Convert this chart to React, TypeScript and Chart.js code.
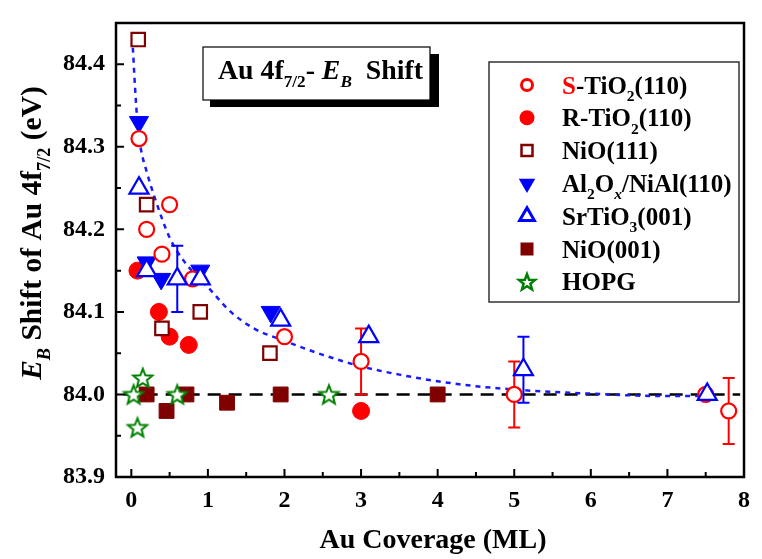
import React, { useEffect, useRef } from "react";
import { Chart, registerables } from "chart.js";

Chart.register(...registerables);

// ---------- DATA ----------
const xTickValues = [0, 1, 2, 3, 4, 5, 6, 7, 8];
const xMinorTickValues = [0.5, 1.5, 2.5, 3.5, 4.5, 5.5, 6.5, 7.5];
const yTickValues = [83.9, 84.0, 84.1, 84.2, 84.3, 84.4];
const yMinorTickValues = [83.95, 84.05, 84.15, 84.25, 84.35];

// S-TiO2(110) open red circles
const sTiO2X = [0.1, 0.2, 0.4, 0.5, 0.8, 2.0, 3.0, 5.0, 7.5, 7.8];
const sTiO2Y = [84.31, 84.2, 84.17, 84.23, 84.14, 84.07, 84.04, 84.0, 84.0, 83.98];
const sTiO2Err = [0, 0, 0, 0, 0, 0, 0.04, 0.04, 0, 0.04];

// R-TiO2(110) filled red circles
const rTiO2X = [0.08, 0.36, 0.5, 0.75, 3.0];
const rTiO2Y = [84.15, 84.1, 84.07, 84.06, 83.98];

// NiO(111) open dark-red squares
const nio111X = [0.09, 0.2, 0.4, 0.9, 1.81];
const nio111Y = [84.43, 84.23, 84.08, 84.1, 84.05];

// Al2Ox/NiAl(110) filled blue down triangles
const alNiAlX = [0.1, 0.2, 0.39, 0.9, 1.82];
const alNiAlY = [84.33, 84.16, 84.14, 84.15, 84.1];

// SrTiO3(001) open blue up triangles
const srTiO3X = [0.1, 0.2, 0.6, 0.9, 1.95, 3.1, 5.12, 7.52];
const srTiO3Y = [84.25, 84.15, 84.14, 84.14, 84.09, 84.07, 84.03, 84.0];
const srTiO3Err = [0, 0, 0.04, 0, 0, 0, 0.04, 0];

// NiO(001) filled dark-red squares
const nio001X = [0.2, 0.46, 0.72, 1.25, 1.95, 4.0];
const nio001Y = [84.0, 83.98, 84.0, 83.99, 84.0, 84.0];

// HOPG open green stars
const hopgX = [0.03, 0.08, 0.15, 0.6, 2.58];
const hopgY = [84.0, 83.96, 84.02, 84.0, 84.0];

// Blue dotted fitted curve
const fitX = [0.02, 0.05, 0.08, 0.12, 0.2, 0.3, 0.5, 0.7, 1.0, 1.3, 1.6, 2.0, 2.5, 3.0, 3.5, 4.0, 4.5, 5.0, 5.5, 6.0, 6.5, 7.0, 7.5];
const fitY = [84.42, 84.37, 84.33, 84.3, 84.27, 84.24, 84.19, 84.16, 84.13, 84.1, 84.08, 84.065, 84.048, 84.034, 84.024, 84.016, 84.01, 84.006, 84.003, 84.001, 83.999, 83.998, 83.998];

// Black dashed reference line
const refX = [-0.1, 7.95];
const refY = [84.0, 84.0];

// ---------- STYLE ----------
const FONT = '"Liberation Serif", "Times New Roman", serif';
const RED = "#ff0000";
const DARKRED = "#800000";
const BLUE = "#0000ff";
const GREEN = "#008000";

type Seg = { t: string; sub?: boolean; it?: boolean; color?: string };

function pts(xs: number[], ys: number[]) {
  return xs.map((x, i) => ({ x, y: ys[i] }));
}

function starPath(ctx: CanvasRenderingContext2D, cx: number, cy: number, ro: number, ri: number) {
  ctx.beginPath();
  for (let i = 0; i < 10; i++) {
    const r = i % 2 === 0 ? ro : ri;
    const a = -Math.PI / 2 + (i * Math.PI) / 5;
    const px = cx + r * Math.cos(a);
    const py = cy + r * Math.sin(a);
    if (i === 0) ctx.moveTo(px, py);
    else ctx.lineTo(px, py);
  }
  ctx.closePath();
}

function makeStar(ro: number, ri: number, lw: number, color: string) {
  const size = Math.ceil(ro * 2 + lw * 2 + 2);
  const c = document.createElement("canvas");
  c.width = size;
  c.height = size;
  const ctx = c.getContext("2d")!;
  starPath(ctx, size / 2, size / 2 + 0.8, ro, ri);
  ctx.fillStyle = "#fff";
  ctx.fill();
  ctx.lineWidth = lw;
  ctx.strokeStyle = color;
  ctx.lineJoin = "miter";
  ctx.stroke();
  return c;
}

function drawRich(ctx: CanvasRenderingContext2D, segs: Seg[], x: number, y: number, size: number, align: "left" | "center") {
  const subSize = size * 0.62;
  const fontFor = (s: Seg) => `${s.it ? "italic " : ""}bold ${s.sub ? subSize : size}px ${FONT}`;
  let total = 0;
  for (const s of segs) {
    ctx.font = fontFor(s);
    total += ctx.measureText(s.t).width;
  }
  let cx = align === "center" ? x - total / 2 : x;
  ctx.textAlign = "left";
  ctx.textBaseline = "alphabetic";
  for (const s of segs) {
    ctx.font = fontFor(s);
    ctx.fillStyle = s.color || "#000";
    ctx.fillText(s.t, cx, y + (s.sub ? size * 0.3 : 0));
    cx += ctx.measureText(s.t).width;
  }
}

function drawMarker(ctx: CanvasRenderingContext2D, kind: string, x: number, y: number, r: number, color: string, lw: number) {
  ctx.save();
  ctx.lineWidth = lw;
  ctx.strokeStyle = color;
  ctx.fillStyle = color;
  if (kind === "circleOpen" || kind === "circleFill") {
    ctx.beginPath();
    ctx.arc(x, y, r, 0, Math.PI * 2);
    if (kind === "circleFill") ctx.fill();
    else {
      ctx.fillStyle = "#fff";
      ctx.fill();
      ctx.stroke();
    }
  } else if (kind === "squareOpen" || kind === "squareFill") {
    ctx.beginPath();
    ctx.rect(x - r, y - r, 2 * r, 2 * r);
    if (kind === "squareFill") ctx.fill();
    else {
      ctx.fillStyle = "#fff";
      ctx.fill();
      ctx.stroke();
    }
  } else if (kind === "triDown" || kind === "triUpOpen") {
    const down = kind === "triDown";
    const s = down ? -1 : 1;
    ctx.beginPath();
    ctx.moveTo(x, y - s * r);
    ctx.lineTo(x + r * 0.866, y + s * r * 0.5);
    ctx.lineTo(x - r * 0.866, y + s * r * 0.5);
    ctx.closePath();
    if (down) ctx.fill();
    else {
      ctx.fillStyle = "#fff";
      ctx.fill();
      ctx.stroke();
    }
  } else if (kind === "star") {
    starPath(ctx, x, y + 0.8, r, r * 0.42);
    ctx.fillStyle = "#fff";
    ctx.fill();
    ctx.stroke();
  }
  ctx.restore();
}

const legendItems: { kind: string; color: string; r: number; lw: number; segs: Seg[] }[] = [
  { kind: "circleOpen", color: RED, r: 5.5, lw: 3, segs: [{ t: "S", color: RED }, { t: "-TiO" }, { t: "2", sub: true }, { t: "(110)" }] },
  { kind: "circleFill", color: RED, r: 7.5, lw: 1, segs: [{ t: "R-TiO" }, { t: "2", sub: true }, { t: "(110)" }] },
  { kind: "squareOpen", color: DARKRED, r: 5.5, lw: 2.5, segs: [{ t: "NiO(111)" }] },
  { kind: "triDown", color: BLUE, r: 9.5, lw: 1, segs: [{ t: "Al" }, { t: "2", sub: true }, { t: "O" }, { t: "x", sub: true, it: true }, { t: "/NiAl(110)" }] },
  { kind: "triUpOpen", color: BLUE, r: 8.5, lw: 3, segs: [{ t: "SrTiO" }, { t: "3", sub: true }, { t: "(001)" }] },
  { kind: "squareFill", color: DARKRED, r: 6.5, lw: 1, segs: [{ t: "NiO(001)" }] },
  { kind: "star", color: GREEN, r: 8.5, lw: 2.5, segs: [{ t: "HOPG" }] },
];

const errorMap: Record<string, number[]> = {
  sTiO2: sTiO2Err,
  srTiO3: srTiO3Err,
};

const decorPlugin = {
  id: "decor",
  beforeDatasetDraw(chart: any, args: any) {
    const ds = chart.data.datasets[args.index];
    const errs = errorMap[ds.key];
    if (!errs) return;
    const ctx: CanvasRenderingContext2D = chart.ctx;
    const xs = chart.scales.x;
    const ys = chart.scales.y;
    ctx.save();
    ctx.strokeStyle = ds.borderColor;
    ctx.lineWidth = 2;
    ds.data.forEach((p: any, i: number) => {
      const e = errs[i];
      if (!e) return;
      const px = xs.getPixelForValue(p.x);
      const top = ys.getPixelForValue(p.y + e);
      const bot = ys.getPixelForValue(p.y - e);
      ctx.beginPath();
      ctx.moveTo(px, top);
      ctx.lineTo(px, bot);
      ctx.moveTo(px - 6, top);
      ctx.lineTo(px + 6, top);
      ctx.moveTo(px - 6, bot);
      ctx.lineTo(px + 6, bot);
      ctx.stroke();
    });
    ctx.restore();
  },
  afterDraw(chart: any) {
    const ctx: CanvasRenderingContext2D = chart.ctx;
    const { left, right, top, bottom } = chart.chartArea;
    const xs = chart.scales.x;
    const ys = chart.scales.y;
    ctx.save();
    // frame
    ctx.strokeStyle = "#000";
    ctx.lineWidth = 2.5;
    ctx.strokeRect(left, top, right - left, bottom - top);
    // ticks (inward, bottom & left)
    ctx.lineWidth = 2;
    ctx.beginPath();
    for (const v of xTickValues) {
      const px = xs.getPixelForValue(v);
      ctx.moveTo(px, bottom);
      ctx.lineTo(px, bottom - 8);
    }
    for (const v of xMinorTickValues) {
      const px = xs.getPixelForValue(v);
      ctx.moveTo(px, bottom);
      ctx.lineTo(px, bottom - 5);
    }
    for (const v of yTickValues) {
      const py = ys.getPixelForValue(v);
      ctx.moveTo(left, py);
      ctx.lineTo(left + 8, py);
    }
    for (const v of yMinorTickValues) {
      const py = ys.getPixelForValue(v);
      ctx.moveTo(left, py);
      ctx.lineTo(left + 5, py);
    }
    ctx.stroke();

    // axis titles
    drawRich(ctx, [{ t: "Au Coverage (ML)" }], 433, 548, 28, "center");
    ctx.save();
    ctx.translate(41, 233);
    ctx.rotate(-Math.PI / 2);
    drawRich(
      ctx,
      [{ t: "E", it: true }, { t: "B", sub: true, it: true }, { t: " Shift of Au 4f" }, { t: "7/2", sub: true }, { t: " (eV)" }],
      0,
      0,
      29.5,
      "center"
    );
    ctx.restore();

    // title box with shadow
    ctx.fillStyle = "#000";
    ctx.fillRect(210, 54, 229, 53);
    ctx.fillStyle = "#fff";
    ctx.fillRect(203, 47, 227, 53);
    ctx.lineWidth = 1.2;
    ctx.strokeStyle = "#000";
    ctx.strokeRect(203, 47, 227, 53);
    drawRich(
      ctx,
      [{ t: "Au 4f" }, { t: "7/2", sub: true }, { t: "- " }, { t: "E", it: true }, { t: "B", sub: true, it: true }, { t: "  Shift" }],
      218,
      79,
      27.8,
      "left"
    );

    // legend
    ctx.fillStyle = "#fff";
    ctx.fillRect(489, 62, 250, 240);
    ctx.lineWidth = 1.5;
    ctx.strokeStyle = "#333";
    ctx.strokeRect(489, 62, 250, 240);
    legendItems.forEach((it, i) => {
      const cy = 85 + i * 32.8;
      drawMarker(ctx, it.kind, 527, cy, it.r, it.color, it.lw);
      drawRich(ctx, it.segs, 562, cy + 8.5, 25, "left");
    });
    ctx.restore();
  },
};

export default function App() {
  const ref = useRef<HTMLCanvasElement | null>(null);

  useEffect(() => {
    if (!ref.current) return;
    const star = makeStar(10, 4.3, 2, GREEN);
    const tickFont = { family: FONT, size: 24, weight: "bold" as const, lineHeight: 1 };

    const chart = new Chart(ref.current, {
      type: "scatter",
      data: {
        datasets: [
          {
            key: "ref",
            label: "ref",
            data: pts(refX, refY),
            showLine: true,
            borderColor: "#000",
            borderWidth: 2.5,
            borderDash: [13, 8],
            pointRadius: 0,
            order: 21,
          },
          {
            key: "fit",
            label: "fit",
            data: pts(fitX, fitY),
            showLine: true,
            borderColor: "#1a1aff",
            borderWidth: 2.5,
            borderDash: [5, 5],
            pointRadius: 0,
            cubicInterpolationMode: "monotone",
            order: 20,
          },
          {
            key: "nio001",
            label: "NiO(001)",
            data: pts(nio001X, nio001Y),
            pointStyle: "rect",
            pointRadius: 10.5,
            pointBorderWidth: 1,
            borderColor: DARKRED,
            backgroundColor: DARKRED,
            order: 7,
          },
          {
            key: "rTiO2",
            label: "R-TiO2(110)",
            data: pts(rTiO2X, rTiO2Y),
            pointStyle: "circle",
            pointRadius: 8.5,
            pointBorderWidth: 1,
            borderColor: RED,
            backgroundColor: RED,
            order: 6,
          },
          {
            key: "nio111",
            label: "NiO(111)",
            data: pts(nio111X, nio111Y),
            pointStyle: "rect",
            pointRadius: 9.5,
            pointBorderWidth: 2.2,
            borderColor: DARKRED,
            backgroundColor: "#fff",
            order: 5,
          },
          {
            key: "alNiAl",
            label: "Al2Ox/NiAl(110)",
            data: pts(alNiAlX, alNiAlY),
            pointStyle: "triangle",
            rotation: 180,
            pointRadius: 11,
            pointBorderWidth: 1,
            borderColor: BLUE,
            backgroundColor: BLUE,
            order: 4,
          },
          {
            key: "sTiO2",
            label: "S-TiO2(110)",
            data: pts(sTiO2X, sTiO2Y),
            pointStyle: "circle",
            pointRadius: 7.5,
            pointBorderWidth: 2.2,
            borderColor: RED,
            backgroundColor: "#fff",
            order: 3,
          },
          {
            key: "srTiO3",
            label: "SrTiO3(001)",
            data: pts(srTiO3X, srTiO3Y),
            pointStyle: "triangle",
            pointRadius: 11,
            pointBorderWidth: 2.2,
            borderColor: BLUE,
            backgroundColor: "#fff",
            order: 2,
          },
          {
            key: "hopg",
            label: "HOPG",
            data: pts(hopgX, hopgY),
            pointStyle: star,
            pointRadius: 10,
            borderColor: GREEN,
            backgroundColor: "#fff",
            order: 1,
          },
        ] as any,
      },
      options: {
        animation: false,
        responsive: false,
        maintainAspectRatio: false,
        events: [],
        layout: { padding: { top: 14, right: 7, left: 0, bottom: 0 } },
        plugins: { legend: { display: false }, tooltip: { enabled: false } },
        scales: {
          x: {
            type: "linear",
            min: -0.2,
            max: 8,
            afterBuildTicks: (s: any) => {
              s.ticks = xTickValues.map((v) => ({ value: v }));
            },
            afterFit: (s: any) => {
              s.height = 82;
            },
            grid: { display: false, drawTicks: false },
            border: { display: false },
            ticks: {
              font: tickFont,
              color: "#000",
              padding: 12,
              maxRotation: 0,
              autoSkip: false,
              callback: (v: any) => String(v),
            },
          },
          y: {
            type: "linear",
            min: 83.9,
            max: 84.45,
            afterBuildTicks: (s: any) => {
              s.ticks = yTickValues.map((v) => ({ value: v }));
            },
            afterFit: (s: any) => {
              s.width = 116;
            },
            grid: { display: false, drawTicks: false },
            border: { display: false },
            ticks: {
              font: tickFont,
              color: "#000",
              padding: 11,
              autoSkip: false,
              callback: (v: any) => Number(v).toFixed(1),
            },
          },
        },
      } as any,
      plugins: [decorPlugin],
    });
    return () => chart.destroy();
  }, []);

  return (
    <div style={{ position: "fixed", left: 0, top: 0, width: 762, height: 559, background: "#fff" }}>
      <canvas ref={ref} width={762} height={559} style={{ display: "block", width: 762, height: 559 }} />
    </div>
  );
}
